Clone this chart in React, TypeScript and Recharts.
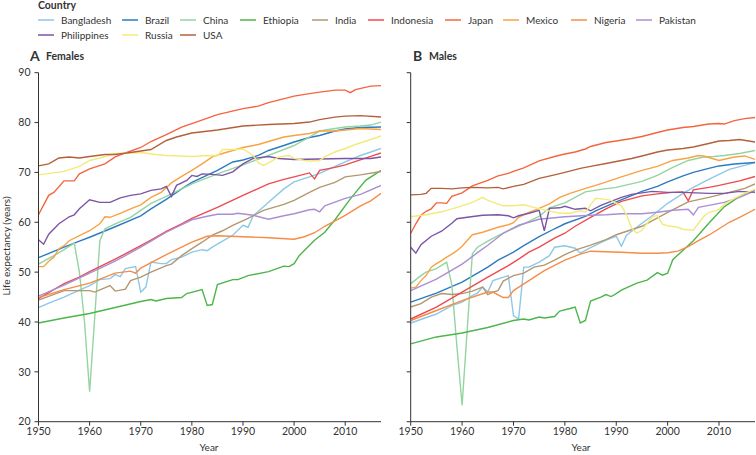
import React from 'react';
import { LineChart, Line, XAxis, YAxis } from 'recharts';

type P = [number, number][];

const countries = ['Bangladesh', 'Brazil', 'China', 'Ethiopia', 'India', 'Indonesia', 'Japan', 'Mexico', 'Nigeria', 'Pakistan', 'Philippines', 'Russia', 'USA'];
const colors = ['#8cc8e8', '#2c7bbf', '#94d4a0', '#4db54a', '#b4976f', '#ef4a4f', '#f4653f', '#f9a245', '#f68c47', '#ab8fd3', '#7b55a6', '#f3ea7c', '#b4613b'];
const yearTicks = [1950, 1960, 1970, 1980, 1990, 2000, 2010];
const yTicks = [20, 30, 40, 50, 60, 70, 80, 90];

// ---------- Females ----------
const fBangladesh: P = [[1950,42.9],[1952,43.8],[1955,45],[1958,46.4],[1960,47.3],[1962,48.5],[1964,48.7],[1965,49.5],[1966,49.1],[1967,50.7],[1969,51.1],[1970,46],[1971,47],[1972,52],[1974,51.7],[1975,51.7],[1976,52.5],[1978,53],[1980,54],[1982,54.5],[1983,54.3],[1984,55],[1986,56.2],[1988,57.4],[1990,59.4],[1991,59],[1992,61.3],[1995,64],[1998,66.7],[2000,68.1],[2003,69.1],[2005,69.8],[2008,71.2],[2010,72.1],[2013,73.4],[2015,74.1],[2017,74.8]];
const fBrazil: P = [[1950,52.9],[1955,55],[1958,56.2],[1960,57],[1965,59.1],[1970,61.3],[1972,62.7],[1975,64.6],[1978,66.7],[1980,68],[1985,70.4],[1988,72.1],[1990,72.5],[1993,73.4],[1995,74.4],[1998,75.4],[2000,76.1],[2003,77],[2005,77.4],[2008,78.3],[2010,78.7],[2013,79],[2017,79.1]];
const fChina: P = [[1950,51.6],[1953,53.3],[1955,54.5],[1957,55.8],[1958,50],[1959,40],[1960,26],[1961,41],[1962,56.3],[1963,58.7],[1965,59.7],[1968,61],[1970,62.4],[1972,63.8],[1975,65.2],[1978,66.7],[1980,67.7],[1985,69.7],[1990,71.5],[1995,73.4],[2000,75.4],[2003,77.1],[2005,78.3],[2008,78.8],[2010,79.1],[2013,79.3],[2015,79.5],[2017,80.1]];
const fEthiopia: P = [[1950,39.8],[1955,40.8],[1960,41.7],[1965,42.9],[1970,44.1],[1972,44.5],[1973,44.2],[1975,44.7],[1978,44.9],[1979,45.7],[1982,46.5],[1983,43.3],[1984,43.5],[1985,47.5],[1988,48.5],[1989,48.5],[1991,49.3],[1995,50.1],[1998,51.2],[1999,51.1],[2000,51.7],[2001,53.3],[2004,56.4],[2006,58],[2008,60.5],[2011,64.7],[2014,68.4],[2017,70.4]];
const fIndia: P = [[1950,44.4],[1955,46.3],[1960,46.3],[1961,46],[1964,47.3],[1965,46.2],[1967,46.6],[1968,48.3],[1970,49],[1972,50],[1975,51.3],[1976,51.6],[1978,53.3],[1980,54.7],[1982,56],[1984,57.4],[1986,58.3],[1988,59.4],[1991,60.8],[1994,62.4],[1996,63],[1998,63.6],[2000,64.4],[2003,66],[2005,67],[2008,68],[2010,69.1],[2013,69.5],[2017,70.2]];
const fIndonesia: P = [[1950,44.7],[1955,47.7],[1958,49],[1960,50.1],[1965,52.6],[1970,55.3],[1972,56.4],[1975,58.2],[1978,59.7],[1980,60.8],[1985,63],[1990,65.4],[1995,67.7],[1998,68.6],[2000,69.1],[2003,69.9],[2004,68.7],[2005,70.4],[2008,71],[2010,71.5],[2015,73.2],[2017,73.9]];
const fJapan: P = [[1950,61.5],[1952,65.4],[1953,66],[1955,68.3],[1957,68.3],[1958,69.7],[1960,70.7],[1963,71.7],[1965,73.1],[1967,73.9],[1970,75],[1972,76.2],[1975,77.6],[1978,79.1],[1980,79.8],[1985,81.6],[1990,82.8],[1993,83.3],[1995,84],[2000,85.3],[2003,85.8],[2005,86.1],[2008,86.5],[2010,86.5],[2011,86],[2012,86.6],[2015,87.3],[2017,87.4]];
const fMexico: P = [[1950,51.1],[1951,51.1],[1952,52.2],[1953,53],[1954,54.7],[1955,55.3],[1956,56.3],[1958,57.3],[1960,58.3],[1962,59.7],[1963,61.1],[1964,61],[1966,61.8],[1968,62.7],[1970,63.5],[1972,65],[1974,66],[1976,67.9],[1978,69.2],[1980,70.4],[1982,71.7],[1984,73.1],[1986,73.8],[1988,74.4],[1990,75],[1993,75.6],[1995,76.2],[1998,77.1],[2000,77.4],[2003,77.8],[2005,78.3],[2008,78.3],[2010,78.5],[2013,78.8],[2017,78.6]];
const fNigeria: P = [[1950,44.9],[1955,46.5],[1960,47.8],[1965,49.8],[1968,50.2],[1969,49.8],[1970,50.8],[1975,53.5],[1980,56],[1983,57.2],[1985,57.3],[1990,57.1],[1995,56.9],[2000,56.6],[2002,57.1],[2004,57.9],[2006,59.2],[2008,60.3],[2010,61.4],[2013,63.3],[2015,64.3],[2017,65.8]];
const fPakistan: P = [[1950,45.2],[1955,47.4],[1960,49.8],[1965,52.2],[1970,55],[1975,58],[1980,60.5],[1983,61.2],[1985,61.6],[1988,61.6],[1989,61.8],[1992,61.4],[1995,60.6],[1998,61.3],[2000,61.7],[2003,62.5],[2004,62.6],[2005,62.1],[2006,63.3],[2010,64.8],[2013,65.6],[2017,67.4]];
const fPhilippines: P = [[1950,56.5],[1951,55.6],[1952,57.6],[1954,59.7],[1956,61.1],[1957,61.5],[1958,62.7],[1960,64.5],[1962,64],[1964,64],[1966,64.9],[1968,65.4],[1970,65.7],[1972,66.4],[1974,66.7],[1975,67.2],[1976,65.2],[1977,67.4],[1979,68.4],[1980,69.4],[1981,69.2],[1982,69.7],[1984,69.6],[1986,69.4],[1988,70.1],[1990,71.7],[1992,72.8],[1995,73.2],[1997,72.8],[2000,72.6],[2005,72.7],[2010,72.8],[2015,72.8],[2017,73.1]];
const fRussia: P = [[1950,69.5],[1955,70.2],[1958,71.2],[1960,72.4],[1962,72.9],[1965,73.8],[1970,74],[1973,73.6],[1975,73.4],[1980,73.2],[1983,73.4],[1985,73.3],[1986,74.6],[1988,74.6],[1990,74.7],[1992,73.4],[1993,71.9],[1994,71.4],[1995,71.9],[1997,73.1],[1999,73.4],[2000,72.8],[2002,72.4],[2003,72.3],[2005,72.4],[2006,73.1],[2008,74.1],[2010,74.8],[2012,75.6],[2015,76.6],[2017,77.3]];
const fUSA: P = [[1950,71.3],[1952,71.7],[1954,72.9],[1956,73.1],[1958,72.9],[1960,73.2],[1963,73.6],[1965,73.6],[1968,74],[1970,74.3],[1972,74.6],[1975,76.4],[1977,77.1],[1980,77.9],[1985,78.5],[1990,79.3],[1995,79.6],[2000,79.8],[2003,80.1],[2005,80.6],[2008,81.1],[2010,81.3],[2013,81.4],[2017,81.1]];

// ---------- Males ----------
const mBangladesh: P = [[1950,39.8],[1955,41.6],[1958,43.3],[1960,44],[1962,45.3],[1963,45.8],[1964,47],[1965,46],[1966,48.3],[1969,49.3],[1970,41.3],[1971,40.6],[1972,51],[1973,51],[1975,52],[1977,53.3],[1978,55],[1980,55.3],[1982,54.8],[1983,53.8],[1985,54.9],[1988,56.4],[1990,57.2],[1991,55.2],[1992,57.4],[1995,59.8],[1997,61.3],[2000,63.8],[2003,65.8],[2005,67],[2008,68.6],[2010,69.6],[2012,70.6],[2015,71.4],[2017,72]];
const mBrazil: P = [[1950,44],[1955,45.8],[1960,48],[1965,51],[1967,52.4],[1970,54],[1972,55.3],[1975,57.1],[1978,58.7],[1980,59.7],[1984,61.2],[1986,62.3],[1990,64.1],[1995,66.2],[1998,67.2],[2000,68.1],[2003,69.3],[2005,70],[2008,70.8],[2010,71.3],[2013,71.7],[2017,72]];
const mChina: P = [[1950,47.7],[1952,49.3],[1953,50],[1955,50.7],[1957,52],[1958,47.5],[1959,35],[1960,23.3],[1961,38.5],[1962,53.7],[1963,55],[1965,56.2],[1967,57.3],[1969,58.3],[1972,59.7],[1975,61.2],[1977,62.9],[1980,63.9],[1984,66.1],[1987,66.6],[1990,67],[1995,68.2],[1998,69.4],[2001,71],[2004,72.4],[2007,73.1],[2009,73.2],[2011,73.4],[2014,73.8],[2017,74.4]];
const mEthiopia: P = [[1950,35.6],[1955,37],[1960,37.8],[1965,38.9],[1970,40.3],[1972,40.6],[1973,40.4],[1975,41],[1976,40.8],[1978,41.1],[1979,42.2],[1981,42.7],[1982,43],[1983,39.8],[1984,40.3],[1985,44.2],[1987,45],[1988,45.5],[1989,45.1],[1990,45.7],[1991,46.4],[1994,47.8],[1996,48.4],[1998,49.9],[1999,49.4],[2000,49.8],[2001,52.5],[2003,54.4],[2005,56.3],[2008,59.8],[2011,63.1],[2014,65.2],[2017,66.5]];
const mIndia: P = [[1950,43],[1952,43.7],[1954,45],[1956,45.7],[1958,45.5],[1960,45.7],[1962,46.2],[1964,47],[1965,45.5],[1966,46],[1967,46.3],[1968,48.2],[1970,49.3],[1972,49.8],[1974,51],[1976,51.4],[1978,52.4],[1980,53.5],[1982,54.4],[1985,55.4],[1988,56.5],[1990,57.5],[1995,59.2],[2000,62],[2004,64.1],[2008,65],[2012,66],[2015,66.8],[2017,67.7]];
const mIndonesia: P = [[1950,40.6],[1955,43],[1960,46],[1965,49],[1969,51.3],[1971,52.6],[1973,54],[1975,55],[1978,56.8],[1980,57.8],[1982,59.2],[1985,61],[1988,62.7],[1991,64.2],[1995,65.3],[1998,65.7],[2001,66],[2003,66.1],[2004,64.3],[2005,66.5],[2008,67],[2010,67.4],[2014,68.3],[2017,69.2]];
const mJapan: P = [[1950,57.8],[1951,59.7],[1952,61.4],[1953,62.2],[1954,62.7],[1955,63.9],[1956,63.9],[1957,63.8],[1958,65.2],[1960,65.9],[1962,67.3],[1965,68.4],[1967,69.3],[1969,69.8],[1970,70.2],[1972,70.9],[1975,72.3],[1978,73.2],[1980,73.7],[1982,74.1],[1984,74.7],[1985,75.2],[1988,76],[1990,76.3],[1993,76.8],[1995,77.2],[1998,78],[2000,78.5],[2003,79],[2005,79.2],[2008,79.7],[2010,79.8],[2011,79.7],[2013,80.4],[2015,80.8],[2017,81]];
const mMexico: P = [[1950,46.8],[1951,47],[1952,48.3],[1953,49.3],[1954,51],[1955,51.7],[1956,52.3],[1957,53],[1958,53.6],[1959,54.3],[1960,55.2],[1962,57.5],[1964,58],[1967,59],[1969,59.5],[1970,59.9],[1971,61],[1973,62],[1975,62.8],[1977,63.7],[1979,65],[1981,65.8],[1984,66.8],[1986,67.4],[1989,68.4],[1991,69.1],[1995,70.4],[1998,71.2],[2001,72.4],[2004,72.9],[2006,73.4],[2007,73.3],[2010,72.4],[2013,73.1],[2015,73.3],[2017,72.6]];
const mNigeria: P = [[1950,40.3],[1955,42.3],[1960,44.3],[1965,46],[1966,46],[1968,44.9],[1969,44.9],[1970,46.3],[1973,48.3],[1976,50.3],[1980,52.4],[1983,53.6],[1985,54.2],[1988,54.1],[1991,54],[1995,53.8],[1998,53.8],[2000,53.9],[2002,54.2],[2004,55.1],[2006,56.3],[2008,57.4],[2010,58.7],[2012,60],[2014,61],[2017,62.6]];
const mPakistan: P = [[1950,46.3],[1955,48.6],[1960,51.6],[1963,53.9],[1965,55.4],[1968,57.8],[1971,59.4],[1975,60.6],[1980,61.1],[1985,61.4],[1988,61.5],[1991,61.7],[1995,61.7],[1998,62],[2001,62.4],[2004,62.6],[2005,61.5],[2006,63],[2008,63.4],[2011,64],[2014,65],[2017,66.3]];
const mPhilippines: P = [[1950,55],[1951,53.8],[1952,55.5],[1954,57.2],[1956,58.2],[1957,59],[1958,59.8],[1959,60.7],[1961,61],[1964,61.4],[1967,61.5],[1969,61.3],[1970,60.9],[1971,61.3],[1973,61.8],[1975,62.4],[1976,58.3],[1977,62.8],[1979,62.9],[1980,63.2],[1982,62.6],[1984,62.8],[1985,62.3],[1987,63.4],[1989,64.2],[1991,65],[1993,65.6],[1995,65.9],[1997,66.2],[2000,66],[2003,66],[2008,65.8],[2011,65.8],[2014,66.2],[2017,66]];
const mRussia: P = [[1950,61.1],[1953,61.5],[1956,62.1],[1959,63],[1962,64],[1964,65],[1965,64.4],[1968,63.3],[1970,63.3],[1972,63.5],[1974,63],[1976,62.5],[1979,61.8],[1981,61.8],[1983,62.3],[1984,62],[1985,63.5],[1986,64.8],[1988,64.6],[1989,64.4],[1990,63.8],[1991,63.3],[1992,61.5],[1993,58.8],[1994,57.8],[1995,58.4],[1996,59.8],[1997,61.1],[1998,61.4],[1999,59.6],[2000,59.3],[2002,59],[2003,58.6],[2005,58.4],[2006,59.8],[2007,61.1],[2008,62],[2009,62.2],[2010,62.6],[2011,63.6],[2013,64.8],[2015,65.8],[2017,66.6]];
const mUSA: P = [[1950,65.5],[1952,65.6],[1953,65.8],[1954,66.8],[1956,66.8],[1958,66.7],[1960,66.9],[1962,67],[1965,66.9],[1967,67],[1968,66.7],[1970,67.2],[1972,67.6],[1975,68.8],[1978,69.5],[1980,70],[1983,70.8],[1985,71.2],[1988,71.8],[1990,72.2],[1993,72.8],[1995,73.3],[1998,74.1],[2000,74.5],[2003,74.8],[2005,75.1],[2008,75.8],[2010,76.3],[2012,76.4],[2014,76.6],[2017,76.1]];

const females = [fBangladesh, fBrazil, fChina, fEthiopia, fIndia, fIndonesia, fJapan, fMexico, fNigeria, fPakistan, fPhilippines, fRussia, fUSA];
const males = [mBangladesh, mBrazil, mChina, mEthiopia, mIndia, mIndonesia, mJapan, mMexico, mNigeria, mPakistan, mPhilippines, mRussia, mUSA];

// layout constants (not data)
const legendRow1X = [38, 122, 180, 240, 312, 368, 445, 503, 571, 636];
const FONT = 'Lato, "Noto Sans", sans-serif';
const INK = '#333';

const toRows = (p: P) => p.map(([year, v]) => ({ year, v }));

function Panel({ series, showLabels, width, yAxisWidth, rightMargin }: { series: P[]; showLabels: boolean; width: number; yAxisWidth: number; rightMargin: number }) {
  return (
    <LineChart width={width} height={455} margin={{ top: 72.7, right: rightMargin, bottom: 0, left: 0 }}>
      <XAxis
        type="number"
        dataKey="year"
        domain={[1950, 2017]}
        allowDataOverflow
        ticks={yearTicks}
        height={33.3}
        stroke={INK}
        tickSize={4}
        tickMargin={2}
        tick={{ fill: INK, fontSize: 10.5, fontFamily: FONT }}
      />
      <YAxis
        type="number"
        domain={[20, 90]}
        allowDataOverflow
        ticks={yTicks}
        width={yAxisWidth}
        stroke={INK}
        tickSize={4}
        tickMargin={4}
        tickFormatter={showLabels ? undefined : () => ''}
        tick={{ fill: INK, fontSize: 10.5, fontFamily: FONT }}
      />
      {series.map((s, i) => (
        <Line
          key={countries[i]}
          name={countries[i]}
          data={toRows(s)}
          dataKey="v"
          type="linear"
          stroke={colors[i]}
          strokeWidth={1.4}
          dot={false}
          activeDot={false}
          isAnimationActive={false}
        />
      ))}
    </LineChart>
  );
}

const abs = (left: number, top: number): React.CSSProperties => ({ position: 'absolute', left, top });

export default function App() {
  const row1 = countries.slice(0, 10);
  const row2 = countries.slice(10);
  const item = (name: string, x: number, y: number) => {
    const idx = countries.indexOf(name);
    return (
      <div key={name} style={{ ...abs(x, y - 7), display: 'flex', alignItems: 'center', height: 14, whiteSpace: 'nowrap' }}>
        <div style={{ width: 16, height: 2, background: colors[idx], opacity: 0.75 }} />
        <span style={{ marginLeft: 7, fontSize: 10, color: INK }}>{name}</span>
      </div>
    );
  };
  return (
    <div style={{ position: 'absolute', left: 0, top: 0, width: 756, height: 455, background: '#fff', fontFamily: FONT, color: INK, overflow: 'hidden' }}>
      <div style={{ ...abs(38, -2), fontSize: 10.5, fontWeight: 700, lineHeight: '14px' }}>Country</div>
      {row1.map((n, i) => item(n, legendRow1X[i], 20))}
      {row2.map((n, i) => item(n, legendRow1X[i], 34.5))}

      <div style={{ ...abs(30, 48), fontSize: 14, fontWeight: 700, lineHeight: '16px' }}>A</div>
      <div style={{ ...abs(46, 49), fontSize: 10.5, fontWeight: 700, lineHeight: '14px' }}>Females</div>
      <div style={{ ...abs(413, 48), fontSize: 14, fontWeight: 700, lineHeight: '16px' }}>B</div>
      <div style={{ ...abs(429, 49), fontSize: 10.5, fontWeight: 700, lineHeight: '14px' }}>Males</div>

      <div style={abs(0, 0)}>
        <Panel series={females} showLabels width={386} yAxisWidth={38.5} rightMargin={5} />
      </div>
      <div style={abs(372, 0)}>
        <Panel series={males} showLabels={false} width={384} yAxisWidth={38.7} rightMargin={1} />
      </div>

      <div style={{ position: 'absolute', left: 6, top: 246, transform: 'translate(-50%, -50%) rotate(-90deg)', fontSize: 10, whiteSpace: 'nowrap' }}>
        Life expectancy (years)
      </div>
      <div style={{ position: 'absolute', left: 209, top: 441, transform: 'translateX(-50%)', fontSize: 10 }}>Year</div>
      <div style={{ position: 'absolute', left: 581, top: 441, transform: 'translateX(-50%)', fontSize: 10 }}>Year</div>
    </div>
  );
}
